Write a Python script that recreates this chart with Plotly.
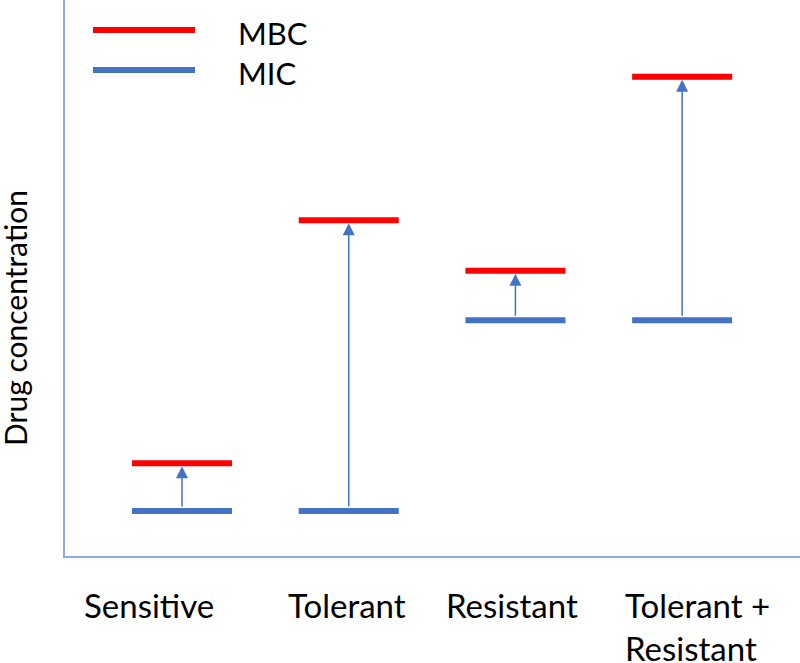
import plotly.graph_objects as go

categories = ["Sensitive", "Tolerant", "Resistant", "Tolerant +<br>Resistant"]
mic_values = [0.81, 0.81, 4.24, 4.24]
mbc_values = [1.67, 6.04, 5.13, 8.62]
series_names = ["MBC", "MIC"]

RED = "#FF0000"
BLUE = "#4472C4"
AXIS = "#8EA9DB"
FONT = "Lato"
HALF = 0.3
LABEL_SHIFT = [-33, -2, -3, 15]  # pixel nudges of the category labels (style only)

xs = list(range(len(categories)))
fig = go.Figure()

for i in xs:
    fig.add_trace(go.Scatter(x=[i - HALF, i + HALF], y=[mic_values[i]] * 2, mode="lines",
                             line=dict(color=BLUE, width=6), showlegend=False,
                             name=series_names[1], hoverinfo="skip"))
    fig.add_trace(go.Scatter(x=[i - HALF, i + HALF], y=[mbc_values[i]] * 2, mode="lines",
                             line=dict(color=RED, width=6), showlegend=False,
                             name=series_names[0], hoverinfo="skip"))
    fig.add_annotation(x=i, y=mbc_values[i], ax=i, ay=mic_values[i], xref="x", yref="y",
                       axref="x", ayref="y", showarrow=True, arrowhead=2, arrowsize=1.6,
                       arrowwidth=1.5, arrowcolor=BLUE, standoff=3, startstandoff=3, text="")
    # category label
    fig.add_annotation(x=i, xref="x", yref="paper", y=-27 / 556, text=categories[i],
                       showarrow=False, xanchor="center", yanchor="top",
                       xshift=LABEL_SHIFT[i], align="left",
                       font=dict(family=FONT, size=33, color="black"))

# legend drawn manually
for k, (name, col) in enumerate(zip(series_names, [RED, BLUE])):
    yp = 1 - (30 + 40 * k) / 556
    fig.add_shape(type="line", xref="paper", yref="paper", x0=28 / 735, x1=130 / 735,
                  y0=yp, y1=yp, line=dict(color=col, width=6))
    fig.add_annotation(xref="paper", yref="paper", x=171 / 735, y=yp - 3 / 556, text=name,
                       showarrow=False, xanchor="left", yanchor="middle",
                       font=dict(family=FONT, size=31, color="black"))

fig.add_annotation(xref="paper", yref="paper", x=-50 / 735, y=(556 - 318) / 556,
                   text="Drug concentration", textangle=-90, showarrow=False,
                   xanchor="center", yanchor="middle",
                   font=dict(family=FONT, size=30, color="black"))

fig.update_layout(
    width=800, height=663,
    margin=dict(l=65, r=0, t=0, b=107),
    plot_bgcolor="white", paper_bgcolor="white",
    xaxis=dict(range=[-0.702, 3.707], tickvals=xs, showticklabels=False,
               showgrid=False, zeroline=False, showline=True, linecolor=AXIS, linewidth=2,
               ticks="", automargin=False),
    yaxis=dict(range=[0, 10], showticklabels=False, showgrid=False, zeroline=False,
               showline=True, linecolor=AXIS, linewidth=2, ticks="", automargin=False),
    showlegend=False,
)

fig.write_html("out.html", config={"displayModeBar": False},
               post_script="document.body.style.margin='0';")
